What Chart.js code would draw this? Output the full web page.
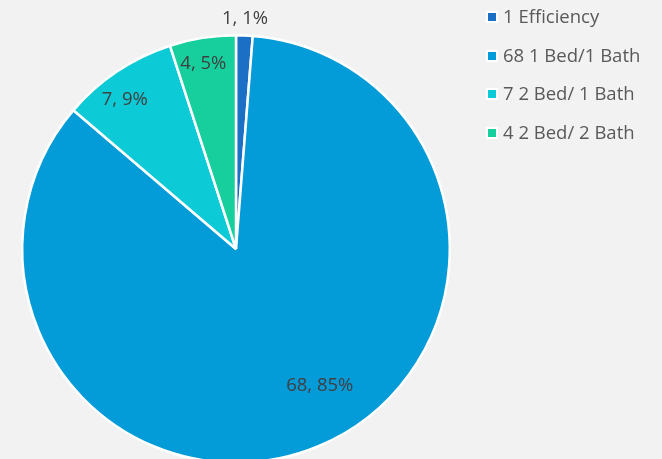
<!DOCTYPE html>
<html>
<head>
<meta charset="utf-8">
<script src="https://cdn.jsdelivr.net/npm/chart.js@4"></script>
<style>
  html, body { margin: 0; padding: 0; background: #f2f2f2; }
  #wrap { position: relative; width: 662px; height: 459px; overflow: hidden; }
  #chart { position: absolute; left: 0; top: 0; }
  #legend { position: absolute; left: 486px; top: 3px; font-family: "Open Sans", sans-serif; font-size: 18.5px; color: #595959; }
  .item { height: 38.5px; display: flex; align-items: flex-start; line-height: 26px; }
  .box { width: 8px; height: 8px; border: 2px solid #fff; margin-right: 5px; margin-top: 8px; }
</style>
</head>
<body>
<div id="wrap">
  <canvas id="chart"></canvas>
  <div id="legend"></div>
</div>
<script>
const categories = ['1 Efficiency', '68 1 Bed/1 Bath', '7 2 Bed/ 1 Bath', '4 2 Bed/ 2 Bath'];
const counts = [1, 68, 7, 4];
const colors = ['#1b6fc5', '#039bd8', '#0ccad6', '#16cf9c'];

// where each label sits: fraction of radius and angle nudge (deg)
const labelSpots = [
  { r: 1.08, shift: 0 },
  { r: 0.75, shift: -9 },
  { r: 0.87, shift: -3 },
  { r: 0.88, shift: -1 }
];

const total = counts.reduce((a, b) => a + b, 0);

const legend = document.getElementById('legend');
categories.forEach((c, i) => {
  const row = document.createElement('div');
  row.className = 'item';
  row.innerHTML = `<span class="box" style="background:${colors[i]}"></span><span>${c}</span>`;
  legend.appendChild(row);
});

const labelPlugin = {
  id: 'sliceLabels',
  afterDatasetsDraw(chart) {
    const ctx = chart.ctx;
    const meta = chart.getDatasetMeta(0);
    ctx.save();
    ctx.font = '18.5px "Open Sans", sans-serif';
    ctx.fillStyle = '#404040';
    ctx.textAlign = 'center';
    ctx.textBaseline = 'middle';
    meta.data.forEach((arc, i) => {
      const p = arc.getProps(['x', 'y', 'startAngle', 'endAngle', 'outerRadius']);
      const mid = (p.startAngle + p.endAngle) / 2 + labelSpots[i].shift * Math.PI / 180;
      const rr = p.outerRadius * labelSpots[i].r;
      const pct = Math.round(counts[i] / total * 100);
      ctx.fillText(`${counts[i]}, ${pct}%`, p.x + Math.cos(mid) * rr, p.y + Math.sin(mid) * rr);
    });
    ctx.restore();
  }
};

const canvas = document.getElementById('chart');
canvas.width = 662; canvas.height = 495;
canvas.style.width = '662px'; canvas.style.height = '495px';

new Chart(canvas.getContext('2d'), {
  type: 'pie',
  data: {
    labels: categories,
    datasets: [{
      data: counts,
      backgroundColor: colors,
      borderColor: '#ffffff',
      borderWidth: 2.5,
      hoverOffset: 0
    }]
  },
  options: {
    responsive: false,
    animation: false,
    layout: { padding: { left: 21, top: 34, right: 211, bottom: 31 } },
    plugins: { legend: { display: false }, tooltip: { enabled: false } }
  },
  plugins: [labelPlugin]
});
</script>
</body>
</html>
